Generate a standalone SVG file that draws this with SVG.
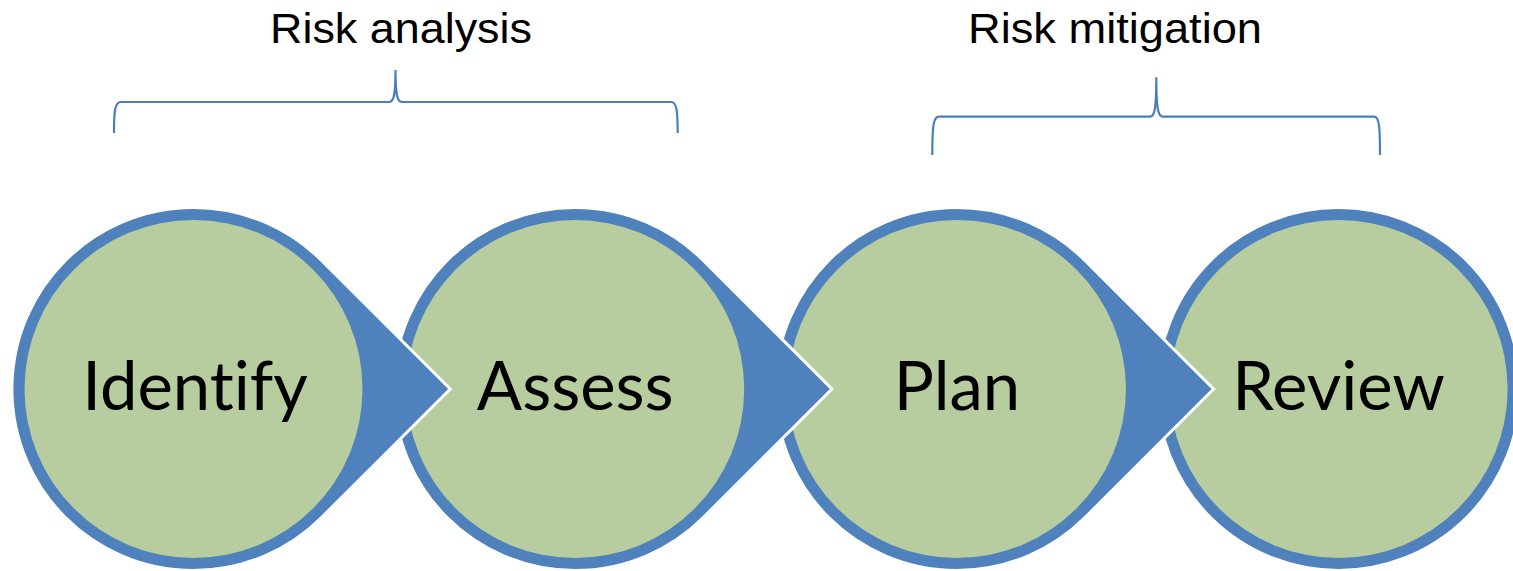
<svg xmlns="http://www.w3.org/2000/svg" width="1513" height="571" viewBox="0 0 1513 571">
<style>
.drop{fill:#4f81bd;stroke:#ffffff;stroke-width:3;stroke-linejoin:miter}
.inner{fill:#b8cd9f}
.lbl{font-family:Lato,"Open Sans",sans-serif;font-size:67px;fill:#000000;text-anchor:middle;font-variant-ligatures:none;font-feature-settings:"liga" 0,"dlig" 0}
.head{font-family:"Liberation Sans",Arial,sans-serif;font-size:43px;fill:#000000;text-anchor:middle}
.brace{fill:none;stroke:#4a7ebb;stroke-width:2.2}
</style>
<defs>
<path id="tear" d="M128.3,-128.3 L256.7,0 L128.3,128.3 A181.5,181.5 0 1 1 128.3,-128.3 Z"/>
</defs>
<rect width="1513" height="571" fill="#ffffff"/>
<g id="node-review" transform="translate(1338.6,389)">
<circle r="181.5" class="drop"/>
<circle r="169" class="inner"/>
<text class="lbl" x="0" y="21">Review</text>
</g>
<g id="node-plan" transform="translate(956.9,389)">
<use href="#tear" class="drop"/>
<circle r="169" class="inner"/>
<text class="lbl" x="0" y="21">Plan</text>
</g>
<g id="node-assess" transform="translate(575.2,389)">
<use href="#tear" class="drop"/>
<circle r="169" class="inner"/>
<text class="lbl" x="0" y="21">Assess</text>
</g>
<g id="node-identify" transform="translate(193.5,389)">
<use href="#tear" class="drop"/>
<circle r="169" class="inner"/>
<text class="lbl" x="1.5" y="21">Identify</text>
</g>
<g id="connectors">
<path class="brace" d="M114,133 C114,110 115,102 121,102 L389,102 C393.5,102 395.5,96 395.5,70 C395.5,96 397.5,102 402,102 L671,102 C676.5,102 677.7,110 677.7,133"/>
<path class="brace" d="M932.3,155 C932.3,125 933.5,116.7 939,116.7 L1150,116.7 C1154.3,116.7 1156.3,110 1156.3,77.3 C1156.3,110 1158.3,116.7 1163,116.7 L1374,116.7 C1379,116.7 1380,125 1380,155"/>
</g>
<g id="labels">
<text class="head" x="401" y="43" textLength="262" lengthAdjust="spacingAndGlyphs">Risk analysis</text>
<text class="head" x="1115" y="43" textLength="294" lengthAdjust="spacingAndGlyphs">Risk mitigation</text>
</g>
</svg>
